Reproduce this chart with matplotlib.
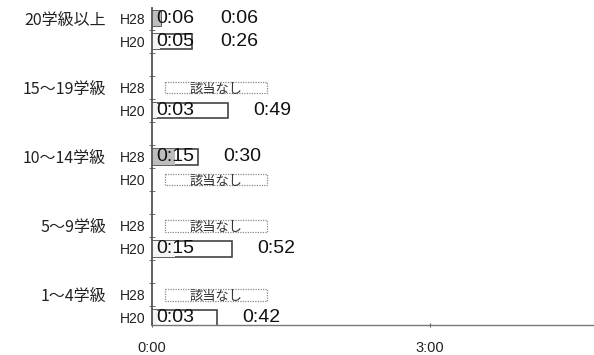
import matplotlib.pyplot as plt
import numpy as np

plt.rcParams['font.family'] = ['Noto Sans CJK JP', 'DejaVu Sans']
num_font = ['Liberation Sans', 'Noto Sans CJK JP']

groups = ["20学級以上", "15〜19学級", "10〜14学級", "5〜9学級", "1〜4学級"]
years = ["H28", "H20"]
# minutes; nan = 該当なし
first_h28 = [6, np.nan, 15, np.nan, np.nan]
total_h28 = [6, np.nan, 30, np.nan, np.nan]
first_h20 = [5, 3, np.nan, 15, 3]
total_h20 = [26, 49, np.nan, 52, 42]
na_text = "該当なし"
xticks = [0, 180]


def fmt(m):
    m = int(m)
    return f"{m // 60}:{m % 60:02d}"


fig = plt.figure(figsize=(5.94, 3.55), dpi=100)
ax = fig.add_axes([0.256, 0.085, 0.744, 0.892])

rows = []
for i, g in enumerate(groups):
    rows.append((g, years[0], 3 * i, first_h28[i], total_h28[i], "#bdbdbd"))
    rows.append((None, years[1], 3 * i + 1, first_h20[i], total_h20[i], "#f4f4f4"))

for g, yr, y, first, total, col in rows:
    if np.isnan(total):
        ax.barh(y, 66, left=8.5, height=0.5, color="white", edgecolor="#8a8a8a",
                linewidth=0.9, linestyle=(0, (1, 1)))
        ax.text(41.5, y, na_text, ha="center", va="center_baseline", fontsize=9.5,
                color="#333333")
        continue
    ax.barh(y, total, height=0.68, color="white", edgecolor="#444444", linewidth=1.2)
    ax.barh(y, first, height=0.68, color=col, edgecolor="none")
    ax.annotate(fmt(first), (0, y), xytext=(3, 0), textcoords="offset points",
                ha="left", va="center", fontsize=14, color="#111111", family=num_font)
    ax.annotate(fmt(total), (max(total, 28), y), xytext=(18, 0), textcoords="offset points",
                ha="left", va="center", fontsize=14, color="#111111", family=num_font)

for i, g in enumerate(groups):
    ax.text(-0.104, 3 * i, g, transform=ax.get_yaxis_transform(), ha="right",
            va="center_baseline", fontsize=11.5, color="#222222")

ypos = [r[2] for r in rows]
ax.set_yticks(ypos)
ax.set_yticklabels([r[1] for r in rows], fontsize=10, color="#222222", family=num_font)
ax.set_yticks(np.arange(-0.5, 13, 1), minor=True)
ax.tick_params(axis="y", which="major", length=0, pad=5)
ax.tick_params(axis="y", which="minor", length=4, direction="inout", color="#555555")

ax.set_xticks(xticks)
ax.set_xticklabels([fmt(t) for t in xticks], fontsize=10.5, color="#222222", family=num_font)
ax.tick_params(axis="x", length=3, direction="inout", pad=10, color="#555555")

ax.set_xlim(0, 286)
ax.set_ylim(13.3, -0.45)
for s in ["top", "right"]:
    ax.spines[s].set_visible(False)
ax.spines["left"].set_color("#555555")
ax.spines["left"].set_linewidth(1.3)
ax.spines["bottom"].set_color("#777777")
ax.spines["bottom"].set_linewidth(1.0)

fig.savefig("out.png", dpi=100)
